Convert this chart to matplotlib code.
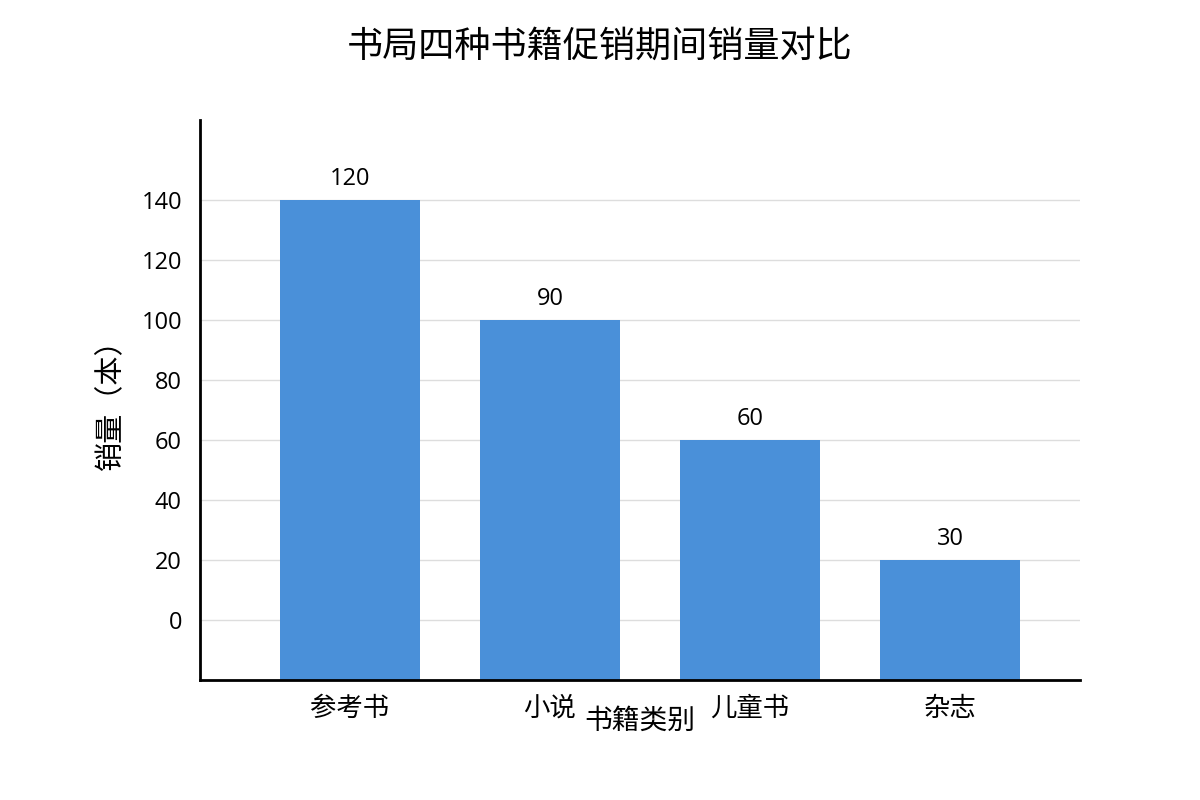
import matplotlib.pyplot as plt

plt.rcParams['font.family'] = ['Open Sans', 'Noto Sans CJK SC', 'DejaVu Sans']

categories = ['参考书', '小说', '儿童书', '杂志']
sales = [120, 90, 60, 30]
# the tick labels on the reference do not match the tick positions
tick_pos = [15, 30, 45, 60, 75, 90, 105, 120]
tick_labels = ['0', '20', '40', '60', '80', '100', '120', '140']

fig = plt.figure(figsize=(12, 8), dpi=100)
ax = fig.add_axes([200/1200, 1-680/800, 880/1200, 560/800])

x = range(len(categories))
bars = ax.bar(x, sales, width=0.7, color='#4a90d9', zorder=2)
for b, v in zip(bars, sales):
    ax.text(b.get_x() + b.get_width()/2, v + 2.3, str(v), ha='center', va='bottom', fontsize=17)

ax.set_xlim(-0.75, 3.65)
ax.set_ylim(0, 140)
ax.set_xticks(list(x))
ax.set_xticklabels(categories, fontsize=19)
ax.set_yticks(tick_pos)
ax.set_yticklabels(tick_labels, fontsize=17)
ax.tick_params(length=0)
ax.tick_params(axis='x', pad=12)
ax.tick_params(axis='y', pad=13)
ax.grid(axis='y', color='#dddddd', linewidth=1, zorder=0)

for s in ['top', 'right']:
    ax.spines[s].set_visible(False)
for s in ['left', 'bottom']:
    ax.spines[s].set_linewidth(2)
    ax.spines[s].set_zorder(3)

ax.set_xlabel('书籍类别', fontsize=20)
ax.xaxis.set_label_coords(0.5, -0.05)
ax.set_ylabel('销量（本）', fontsize=21)
ax.yaxis.set_label_coords(-0.084, 0.505)

fig.text(0.5, 1-48/800, '书局四种书籍促销期间销量对比', ha='center', va='center', fontsize=26)

fig.savefig('out.png', dpi=100)
